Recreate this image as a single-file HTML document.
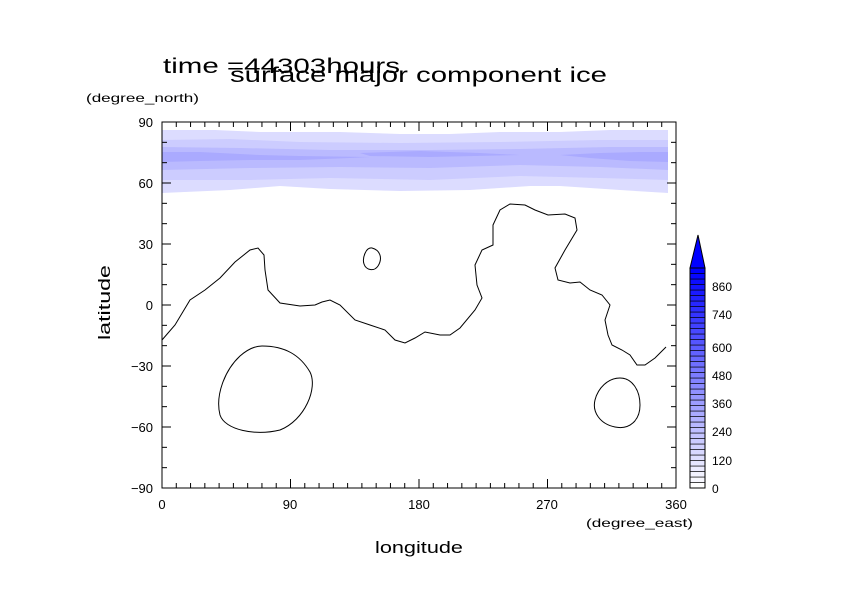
<!DOCTYPE html>
<html><head><meta charset="utf-8"><style>
html,body{margin:0;padding:0;background:#fff;width:842px;height:595px;overflow:hidden}
text{font-family:"Liberation Sans",sans-serif;fill:#000}
</style></head><body>
<svg id="s" width="842" height="595" viewBox="0 0 842 595" xmlns="http://www.w3.org/2000/svg">
<g id="band">
<path d="M162,130 L215,130 L260,132 L340,132 L400,134 L450,134 L500,132 L560,132 L610,130 L668,130 L668,193 L620,190 L560,186 L530,186 L470,190 L400,191 L330,189 L280,186 L230,190 L162,193 Z" fill="#dcdcff"/>
<path d="M162,140 L230,139 L300,142 L400,143 L500,142 L600,140 L668,140 L668,180 L600,178 L520,176 L430,180 L330,178 L250,180 L162,180 Z" fill="#ccccff"/>
<path d="M162,147 L240,148 L330,150 L430,150 L520,149 L610,147 L668,147 L668,170 L600,167 L520,165 L430,168 L340,167 L250,168 L162,170 Z" fill="#babaff"/>
<path d="M162,152 L200,152 L260,155 L300,156 L370,157 L350,158 L300,160 L250,160 L200,161 L162,162 Z" fill="#aaaaff"/>
<path d="M360,153 L420,151 L480,153 L520,155 L430,157 L370,156 Z" fill="#aaaaff"/>
<path d="M560,155 L600,153 L640,152 L668,152 L668,162 L630,161 L590,158 Z" fill="#aaaaff"/>
</g>
<g fill="none" stroke="#000" stroke-width="1">
<polyline points="162,340 175,325 190,300 205,290 220,278 235,262 250,250 258,248 264,255 265,270 268,290 280,303 300,306 315,305 322,302 330,300 340,305 355,320 370,325 385,330 395,340 405,343 415,338 425,332 440,335 450,335 460,328 475,310 482,298 477,285 475,265 482,250 493,245 493,225 500,210 510,204 525,205 535,210 548,215 565,214 575,218 577,230 565,250 555,268 558,280 570,283 580,282 590,290 602,295 610,305 605,320 608,335 612,345 622,350 630,355 637,365 645,365 655,358 666,347"/>
<path d="M372,248 C380,250 383,258 378,266 C374,272 366,270 364,264 C362,258 366,247 372,248 Z"/>
<path d="M262,346 C285,346 300,355 310,372 C318,388 305,420 280,430 C255,436 225,430 220,415 C215,395 225,370 240,356 C248,349 255,346 262,346 Z"/>
<path d="M620,378 C632,378 640,390 640,405 C640,420 630,430 615,427 C600,424 592,412 595,400 C598,388 608,378 620,378 Z"/>
</g>
<rect x="162" y="122" width="514" height="366" fill="none" stroke="#000"/>
<g id="ticks" stroke="#000"></g>
<g id="cb"></g>
<polygon points="690,268 705,268 698,235" fill="#0000ff" stroke="#000"/>
<rect x="690" y="268" width="15" height="220" fill="none" stroke="#000"/>
<g font-size="13">
<text x="162" y="509" text-anchor="middle">0</text>
<text x="290" y="509" text-anchor="middle">90</text>
<text x="419" y="509" text-anchor="middle">180</text>
<text x="547" y="509" text-anchor="middle">270</text>
<text x="676" y="509" text-anchor="middle">360</text>
<text x="153" y="127" text-anchor="end">90</text>
<text x="153" y="188" text-anchor="end">60</text>
<text x="153" y="249" text-anchor="end">30</text>
<text x="153" y="310" text-anchor="end">0</text>
<text x="153" y="371" text-anchor="end">−30</text>
<text x="153" y="432" text-anchor="end">−60</text>
<text x="153" y="493" text-anchor="end">−90</text>
</g>
<g font-size="12">
<text x="712" y="493">0</text>
<text x="712" y="465">120</text>
<text x="712" y="436">240</text>
<text x="712" y="408">360</text>
<text x="712" y="380">480</text>
<text x="712" y="352">600</text>
<text x="712" y="319">740</text>
<text x="712" y="291">860</text>
<text x="586" y="527" textLength="107" lengthAdjust="spacingAndGlyphs">(degree_east)</text>
<text x="86" y="102" textLength="113" lengthAdjust="spacingAndGlyphs">(degree_north)</text>
</g>
<text x="375" y="553" font-size="17" textLength="88" lengthAdjust="spacingAndGlyphs">longitude</text>
<text x="110" y="340" font-size="17" transform="rotate(-90 110 340)" textLength="75" lengthAdjust="spacingAndGlyphs">latitude</text>
<text x="163" y="73" font-size="21" textLength="237" lengthAdjust="spacingAndGlyphs">time =44303hours</text>
<text x="230" y="82" font-size="21" textLength="377" lengthAdjust="spacingAndGlyphs">surface major component ice</text>
</svg>
<script>
var NS="http://www.w3.org/2000/svg",t=document.getElementById("ticks");
function L(x1,y1,x2,y2){var l=document.createElementNS(NS,"line");l.setAttribute("x1",x1);l.setAttribute("y1",y1);l.setAttribute("x2",x2);l.setAttribute("y2",y2);t.appendChild(l);}
for(var i=0;i<=36;i++){var x=162+i*514/36,m=i%9==0?9:5;L(x,122,x,122+m);L(x,488,x,488-m);}
for(var j=0;j<=18;j++){var y=122+j*366/18,m=j%3==0?9:5;L(162,y,162+m,y);L(676,y,676-m,y);}
var cb=document.getElementById("cb"),n=40;
for(var k=0;k<n;k++){var f=k/(n-1),r=Math.round(255*(1-f)),r2=document.createElementNS(NS,"rect");
r2.setAttribute("x",690);r2.setAttribute("y",488-(k+1)*220/n);r2.setAttribute("width",15);r2.setAttribute("height",220/n);
r2.setAttribute("fill","rgb("+r+","+r+",255)");r2.setAttribute("stroke","#000");r2.setAttribute("stroke-width","0.6");cb.appendChild(r2);}
</script>
</body></html>
